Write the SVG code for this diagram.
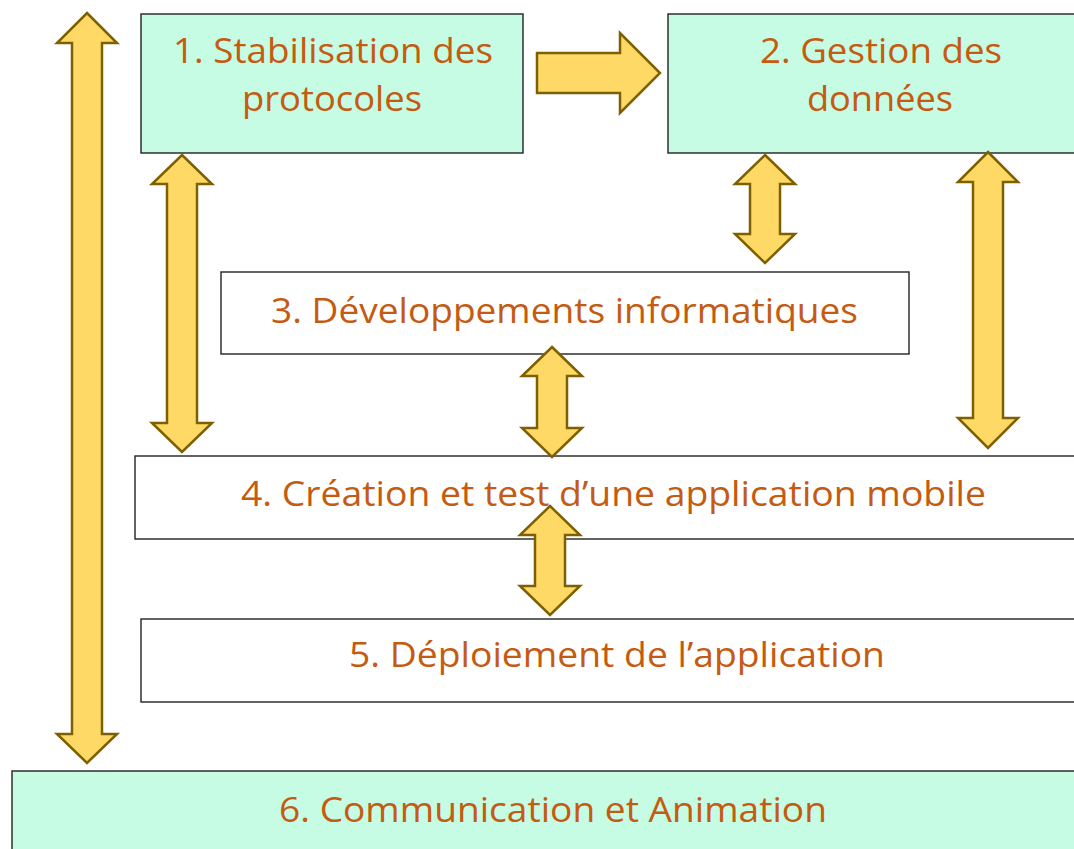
<svg xmlns="http://www.w3.org/2000/svg" width="1074" height="849" viewBox="0 0 1074 849">
  <style>
    .box-g { fill: #C5FCE3; stroke: #222; stroke-width: 1.4; }
    .box-w { fill: #FFFFFF; stroke: #222; stroke-width: 1.4; }
    .lbl { font-family: "Open Sans", "Liberation Sans", sans-serif; font-size: 35.5px; fill: #C55A11; }
    .arr { fill: #FFD966; stroke: #7F6000; stroke-width: 2.5; stroke-linejoin: miter; }
  </style>
  <rect width="1074" height="849" fill="#FFFFFF"/>

  <g id="node1">
    <rect class="box-g" x="141" y="14" width="382" height="139"/>
    <text class="lbl" x="173" y="63" textLength="320" lengthAdjust="spacingAndGlyphs">1. Stabilisation des</text>
    <text class="lbl" x="242" y="111" textLength="180" lengthAdjust="spacingAndGlyphs">protocoles</text>
  </g>
  <g id="node2">
    <rect class="box-g" x="668" y="14" width="430" height="139"/>
    <text class="lbl" x="760" y="63" textLength="242" lengthAdjust="spacingAndGlyphs">2. Gestion des</text>
    <text class="lbl" x="807" y="111" textLength="146" lengthAdjust="spacingAndGlyphs">données</text>
  </g>
  <g id="node3">
    <rect class="box-w" x="221" y="272" width="688" height="82"/>
    <text class="lbl" x="271" y="323" textLength="587" lengthAdjust="spacingAndGlyphs">3. Développements informatiques</text>
  </g>
  <g id="node4">
    <rect class="box-w" x="135" y="456" width="960" height="83"/>
    <text class="lbl" x="241" y="506" textLength="745" lengthAdjust="spacingAndGlyphs">4. Création et test d’une application mobile</text>
  </g>
  <g id="node5">
    <rect class="box-w" x="141" y="619" width="960" height="83"/>
    <text class="lbl" x="349" y="667" textLength="536" lengthAdjust="spacingAndGlyphs">5. Déploiement de l’application</text>
  </g>
  <g id="node6">
    <rect class="box-g" x="12" y="771" width="1090" height="100"/>
    <text class="lbl" x="279" y="822" textLength="548" lengthAdjust="spacingAndGlyphs">6. Communication et Animation</text>
  </g>

  <g id="connectors">
    <polygon class="arr" points="87,13 117,43 102,43 102,734 117,734 87,763 57,734 72,734 72,43 57,43"/>
    <polygon class="arr" points="182,155 212,184 197,184 197,423 212,423 182,452 152,423 167,423 167,184 152,184"/>
    <polygon class="arr" points="537,53 620,53 620,33 660,73 620,113 620,93 537,93"/>
    <polygon class="arr" points="765,155 795,184 780,184 780,234 795,234 765,263 735,234 750,234 750,184 735,184"/>
    <polygon class="arr" points="988,152 1018,182 1003,182 1003,418 1018,418 988,448 958,418 973,418 973,182 958,182"/>
    <polygon class="arr" points="552,347 582,376 567,376 567,428 582,428 552,457 522,428 537,428 537,376 522,376"/>
    <polygon class="arr" points="550,506 580,535 565,535 565,586 580,586 550,615 520,586 535,586 535,535 520,535"/>
  </g>
</svg>
